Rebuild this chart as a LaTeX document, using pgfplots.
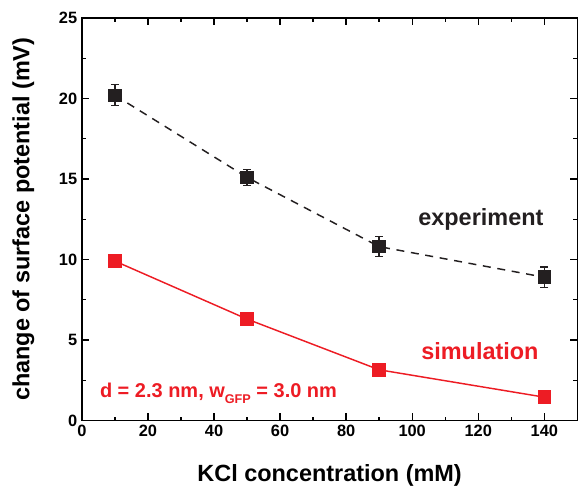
\documentclass[border=0pt]{standalone}
\usepackage{pgfplots}
\pgfplotsset{compat=1.18}
\usepackage{fontspec}
\setmainfont{Liberation Sans}
\definecolor{simred}{RGB}{237,28,36}
\definecolor{expblk}{RGB}{35,31,32}

\begin{document}
\begin{tikzpicture}
  \begin{axis}[
      name=ax, at={(0,0)}, anchor=south west,
      scale only axis,
      width=372pt, height=302.25pt,
      xmin=0, xmax=150,
      ymin=0, ymax=25,
      xtick={0,20,...,140}, ytick={0,5,...,25},
      minor x tick num=1, minor y tick num=1,
      tick align=inside,
      major tick length=5.5pt, minor tick length=3pt,
      every tick/.style={line width=1pt, black},
      axis line style={line width=1.1pt},
      /pgf/number format/assume math mode=true,
      tick label style={font=\fontsize{12.3}{12.3}\selectfont\bfseries},
      label style={font=\fontsize{17.6}{17.6}\selectfont\bfseries},
      xlabel={KCl concentration (mM)},
      ylabel={change of surface potential (mV)},
      xlabel style={at={(axis description cs:0.5,-0.1357)}, anchor=center},
      ylabel style={at={(axis description cs:-0.118,0.5)}, anchor=center},
      clip=false,
    ]

    % experiment
    \addplot[color=expblk, line width=1.1pt, dash pattern=on 6pt off 5pt,
      mark=square*, mark size=4.5pt, mark options={solid},
      error bars/.cd, y dir=both, y explicit,
      error bar style={solid, line width=1pt},
      error mark options={rotate=90, mark size=3pt, line width=1pt}]
      coordinates {
        (10,20.2) +- (0,0.65)
        (50,15.1) +- (0,0.5)
        (90,10.8) +- (0,0.62)
        (140,8.9) +- (0,0.64)
    };

    % simulation
    \addplot[color=simred, line width=1.1pt, mark=square*, mark size=4.5pt]
      coordinates {
        (10,9.9)
        (50,6.3)
        (90,3.15)
        (140,1.45)
    };

    \node[font=\fontsize{17.6}{17.6}\selectfont\bfseries, text=expblk] at (axis cs:120.8,12.5) {experiment};
    \node[font=\fontsize{17.6}{17.6}\selectfont\bfseries, text=simred] at (axis cs:120.5,4.3) {simulation};
    \node[font=\fontsize{15}{15}\selectfont\bfseries, text=simred, anchor=west, inner sep=0pt]
      at (axis cs:5.4,1.7) {d = 2.3 nm, w\raisebox{-0.55ex}{\fontsize{9.5}{9.5}\selectfont GFP} = 3.0 nm};
  \end{axis}
  \pgfresetboundingbox
  \path[use as bounding box] (-61.5pt,-50.25pt) rectangle (372.5pt,315.75pt);
\end{tikzpicture}
\end{document}
